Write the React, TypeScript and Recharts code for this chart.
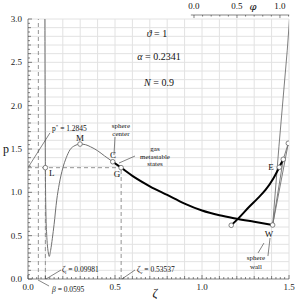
import React from 'react'
import {
  ComposedChart,
  Line,
  Scatter,
  XAxis,
  YAxis,
  CartesianGrid,
  ReferenceLine,
  ReferenceDot,
} from 'recharts'

const FONT = '"Liberation Serif", "DejaVu Serif", serif'

// isotherm p(zeta), thin gray curve
const isoZeta = [0.097, 0.0985, 0.0998, 0.101, 0.103, 0.107, 0.112, 0.117, 0.122, 0.13, 0.14, 0.15, 0.165, 0.18, 0.2, 0.22, 0.241, 0.27, 0.299, 0.33, 0.36, 0.4, 0.44, 0.487, 0.535]
const isoP = [3.0, 2.0, 1.2845, 1.0, 0.75, 0.53, 0.38, 0.3, 0.26, 0.33, 0.47, 0.63, 0.91, 1.1, 1.28, 1.4, 1.49, 1.54, 1.557, 1.55, 1.525, 1.48, 1.42, 1.353, 1.2845]

// thick curve: sphere center -> sphere wall
const centerWallZeta = [0.487, 0.535, 0.6, 0.7, 0.8, 0.9, 1.0, 1.1, 1.2, 1.3, 1.406]
const centerWallP = [1.353, 1.2845, 1.19, 1.07, 0.97, 0.87, 0.79, 0.735, 0.695, 0.66, 0.623]

// thick rising curve
const risingZeta = [1.168, 1.209, 1.27, 1.32, 1.366, 1.41, 1.444, 1.467]
const risingP = [0.62, 0.7, 0.83, 0.93, 1.03, 1.16, 1.289, 1.381]

// thin lines near the wall
const steepZeta = [1.406, 1.442, 1.49, 1.503]
const steepP = [0.623, 1.526, 2.64, 3.0]
const wallFanZeta = [1.467, 1.406, 1.496, 1.467]
const wallFanP = [1.381, 0.623, 1.566, 1.381]

// marked states
const markerZeta = [0.0998, 0.299, 0.487, 0.535, 1.406, 1.444, 1.168, 1.467, 1.496]
const markerP = [1.2845, 1.557, 1.353, 1.2845, 0.623, 1.289, 0.62, 1.381, 1.566]

const pStar = 1.2845
const zetaL = 0.09981
const zetaV = 0.53537
const beta = 0.0595

const zetaLabels = [0, 0.5, 1.0, 1.5]
const pLabels = [0, 0.5, 1.0, 1.5, 2.0, 2.5, 3.0]
const phiLabels = [0, 0.5, 1.0]

// top phi axis placed against the zeta scale: zeta = phiAt0 + phiSpan * phi
const phiAt0 = 0.954
const phiSpan = 0.494
const phiAxisP = 3.046

const zip = (zs: number[], ps: number[]) => zs.map((z, i) => ({ z, p: ps[i] }))

const range = (from: number, to: number, step: number) => {
  const out: number[] = []
  for (let i = 0; from + i * step <= to + 1e-9; i++) out.push(+(from + i * step).toFixed(4))
  return out
}

const zetaTicks = range(0, 1.5, 0.025)
const pTicks = range(0, 3.0, 0.05)
const phiTicks = range(0, 1.1, 0.1)
const gridZ = range(0.1, 1.5, 0.1)
const gridP = range(0.1, 3.0, 0.1)

const has = (arr: number[], v: number) => arr.some((a) => Math.abs(a - v) < 1e-6)

function ZetaTick({ x, y, payload }: any) {
  const v = payload.value
  const major = has(zetaLabels, v)
  const tenth = Math.abs(v * 10 - Math.round(v * 10)) < 1e-6
  const len = major ? 4 : tenth ? 3 : 2
  return (
    <g>
      <line x1={x} x2={x} y1={y} y2={y - len} stroke="#333" strokeWidth={0.6} />
      {major && (
        <text x={x} y={y + 11} textAnchor="middle" fontSize={9} fontFamily={FONT} fill="#222">
          {v.toFixed(1)}
        </text>
      )}
    </g>
  )
}

function PTick({ x, y, payload }: any) {
  const v = payload.value
  const major = has(pLabels, v)
  const tenth = Math.abs(v * 10 - Math.round(v * 10)) < 1e-6
  const len = major ? 4 : tenth ? 3 : 2
  return (
    <g>
      <line x1={x} x2={x + len} y1={y} y2={y} stroke="#333" strokeWidth={0.6} />
      {major && (
        <text x={x - 6} y={y + 3} textAnchor="end" fontSize={9} fontFamily={FONT} fill="#222">
          {v.toFixed(1)}
        </text>
      )}
    </g>
  )
}

interface Note {
  z: number
  p: number
  size: number
  anchor: 'start' | 'middle' | 'end'
  content: React.ReactNode
  family?: string
}

const it = (s: string) => <tspan fontStyle="italic">{s}</tspan>

const notes: Note[] = [
  { z: 0.741, p: 2.792, size: 10, anchor: 'middle', content: <>{it('ϑ')} = 1</> },
  { z: 0.753, p: 2.527, size: 10, anchor: 'middle', content: <>{it('α')} = 0.2341</> },
  { z: 0.753, p: 2.227, size: 10, anchor: 'middle', content: <>{it('N')} = 0.9</> },
  {
    z: 0.138, p: 1.708, size: 7.5, anchor: 'start',
    content: <>p<tspan dy={-3} fontSize={5}>*</tspan><tspan dy={3}> = 1.2845</tspan></>,
  },
  { z: 0.534, p: 1.742, size: 7, anchor: 'middle', content: 'sphere' },
  { z: 0.534, p: 1.655, size: 7, anchor: 'middle', content: 'center' },
  { z: 0.73, p: 1.478, size: 7, anchor: 'middle', content: 'gas' },
  { z: 0.73, p: 1.39, size: 7, anchor: 'middle', content: 'metastable' },
  { z: 0.73, p: 1.302, size: 7, anchor: 'middle', content: 'states' },
  { z: 0.121, p: 1.188, size: 9, anchor: 'start', content: 'L' },
  { z: 0.299, p: 1.592, size: 9, anchor: 'middle', content: 'M' },
  { z: 0.489, p: 1.396, size: 9, anchor: 'middle', content: 'C' },
  { z: 0.511, p: 1.177, size: 9, anchor: 'middle', content: 'G' },
  { z: 1.397, p: 1.258, size: 9, anchor: 'middle', content: 'E' },
  { z: 1.385, p: 0.485, size: 9, anchor: 'middle', content: 'W' },
  {
    z: 0.195, p: 0.081, size: 7.5, anchor: 'start',
    content: <>{it('ζ')}<tspan dy={2} fontSize={5}>l</tspan><tspan dy={-2}> = 0.09981</tspan></>,
  },
  {
    z: 0.626, p: 0.081, size: 7.5, anchor: 'start',
    content: <>{it('ζ')}<tspan dy={2} fontSize={5}>v</tspan><tspan dy={-2}> = 0.53537</tspan></>,
  },
  { z: 0.138, p: -0.15, size: 7.5, anchor: 'start', content: <>{it('β')} = 0.0595</> },
  { z: 1.31, p: 0.219, size: 7, anchor: 'middle', content: 'sphere' },
  { z: 1.31, p: 0.12, size: 7, anchor: 'middle', content: 'wall' },
  { z: -0.126, p: 1.454, size: 12, anchor: 'middle', content: 'p' },
  { z: 0.73, p: -0.208, size: 12, anchor: 'middle', content: it('ζ') },
  { z: 1.293, p: 3.104, size: 10, anchor: 'middle', content: it('φ'), family: '"DejaVu Serif", serif' },
  ...phiLabels.map((v) => ({
    z: phiAt0 + phiSpan * v,
    p: 3.115,
    size: 9,
    anchor: 'middle' as const,
    content: v.toFixed(1),
  })),
]

// leader lines [z1, p1, z2, p2]
const leaders = [
  [0.126, 1.685, 0.006, 1.304],
  [0.5, 1.638, 0.494, 1.431],
  [0.615, 1.419, 0.523, 1.338],
  [0.19, 0.104, 0.103, 0.0],
  [0.615, 0.104, 0.54, 0.0],
  [0.121, -0.081, 0.0575, -0.0115],
  [1.322, 0.3, 1.356, 0.415],
  [1.379, 0.265, 1.391, 0.473],
]

const dashed = [
  [beta, 0, beta, 3.0],
  [zetaL, 0, zetaL, pStar],
  [zetaV, 0, zetaV, pStar],
  [0, pStar, zetaV, pStar],
]

// phi axis line and ticks
const phiLines = [
  [phiAt0 - 0.018, phiAxisP, phiAt0 + phiSpan * 1.1 + 0.004, phiAxisP],
  ...phiTicks.map((v) => {
    const z = phiAt0 + phiSpan * v
    return [z, phiAxisP, z, phiAxisP - (has(phiLabels, v) ? 0.035 : 0.018)]
  }),
]

export default function App() {
  return (
    <div style={{ position: 'absolute', left: 0, top: 0, background: '#fff' }}>
      <ComposedChart width={299} height={299} margin={{ top: 19, right: 10, bottom: 0, left: 0 }}>
        <CartesianGrid
          stroke="#e2e2e2"
          strokeWidth={1}
          verticalValues={gridZ}
          horizontalValues={gridP}
        />
        <XAxis
          dataKey="z"
          type="number"
          domain={[0, 1.5]}
          ticks={zetaTicks}
          interval={0}
          height={20}
          allowDataOverflow
          tickLine={false}
          tickSize={0}
          tickMargin={0}
          axisLine={{ stroke: '#333', strokeWidth: 0.6 }}
          tick={<ZetaTick />}
        />
        <YAxis
          type="number"
          domain={[0, 3]}
          ticks={pTicks}
          interval={0}
          width={28}
          allowDataOverflow
          tickLine={false}
          tickSize={0}
          tickMargin={0}
          axisLine={{ stroke: '#333', strokeWidth: 0.6 }}
          tick={<PTick />}
        />
        {dashed.map(([z1, p1, z2, p2], i) => (
          <ReferenceLine
            key={'d' + i}
            segment={[{ x: z1, y: p1 }, { x: z2, y: p2 }]}
            stroke="#888"
            strokeWidth={0.9}
            strokeDasharray="4 3"
          />
        ))}
        {phiLines.map(([z1, p1, z2, p2], i) => (
          <ReferenceLine
            key={'f' + i}
            segment={[{ x: z1, y: p1 }, { x: z2, y: p2 }]}
            stroke="#333"
            strokeWidth={0.6}
            ifOverflow="visible"
          />
        ))}
        <Line data={zip(isoZeta, isoP)} dataKey="p" type="monotone" stroke="#707070" strokeWidth={1} dot={false} isAnimationActive={false} />
        <Line data={zip(steepZeta, steepP)} dataKey="p" type="linear" stroke="#707070" strokeWidth={0.9} dot={false} isAnimationActive={false} />
        <Line data={zip(wallFanZeta, wallFanP)} dataKey="p" type="linear" stroke="#707070" strokeWidth={0.9} dot={false} isAnimationActive={false} />
        <Line data={zip(centerWallZeta, centerWallP)} dataKey="p" type="monotone" stroke="#000" strokeWidth={2} dot={false} isAnimationActive={false} />
        <Line data={zip(risingZeta, risingP)} dataKey="p" type="monotone" stroke="#000" strokeWidth={2} dot={false} isAnimationActive={false} />
        {leaders.map(([z1, p1, z2, p2], i) => (
          <ReferenceLine
            key={'l' + i}
            segment={[{ x: z1, y: p1 }, { x: z2, y: p2 }]}
            stroke="#333"
            strokeWidth={0.6}
            ifOverflow="visible"
          />
        ))}
        <Scatter
          data={zip(markerZeta, markerP)}
          dataKey="p"
          isAnimationActive={false}
          shape={(props: any) => (
            <circle cx={props.cx} cy={props.cy} r={2.3} fill="#fff" stroke="#666" strokeWidth={0.8} />
          )}
        />
        {notes.map((n, i) => (
          <ReferenceDot
            key={'n' + i}
            x={n.z}
            y={n.p}
            ifOverflow="visible"
            shape={(props: any) => (
              <text
                x={props.cx}
                y={props.cy}
                textAnchor={n.anchor}
                fontSize={n.size}
                fontFamily={n.family ?? FONT}
                fill="#111"
                stroke="none"
              >
                {n.content}
              </text>
            )}
          />
        ))}
      </ComposedChart>
    </div>
  )
}
